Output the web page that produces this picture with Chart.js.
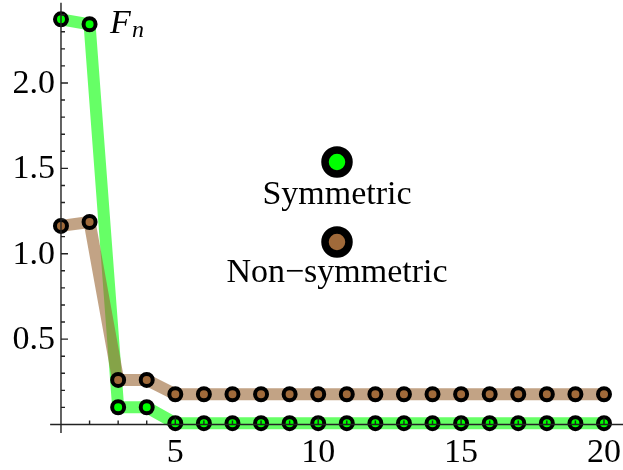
<!DOCTYPE html>
<html>
<head>
<meta charset="utf-8">
<script src="https://cdn.jsdelivr.net/npm/chart.js@4"></script>
<style>
  html, body { margin: 0; padding: 0; background: #fff; }
  canvas { display: block; }
</style>
</head>
<body>
<canvas id="fnChart" width="623" height="470"></canvas>
<script>
// DATA

const nValues = [1,2,3,4,5,6,7,8,9,10,11,12,13,14,15,16,17,18,19,20];
const symmetric = [2.373,2.344,0.101,0.101,0.008,0.008,0.008,0.008,0.008,0.008,
                   0.008,0.008,0.008,0.008,0.008,0.008,0.008,0.008,0.008,0.008];
const nonSymmetric = [1.163,1.186,0.261,0.261,0.177,0.177,0.177,0.177,0.177,0.177,
                      0.177,0.177,0.177,0.177,0.177,0.177,0.177,0.177,0.177,0.177];
const xMajorTicks = [5,10,15,20];
const yMajorTicks = [0.5,1.0,1.5,2.0];
const seriesNames = ['Symmetric','Non\u2212symmetric'];

const GREEN = 'rgb(0,255,0)';
const GREEN_LINE = 'rgba(0,255,0,0.6)';
const BROWN = 'rgb(160,106,58)';
const BROWN_LINE = 'rgba(153,102,51,0.6)';
const FONT = '"Liberation Serif", "DejaVu Serif", serif';

function toPoints(ys) {
    return nValues.map((n, i) => ({ x: n, y: ys[i] }));
}

// AXES, TICKS, LABELS, LEGEND

const axesPlugin = {
    id: 'axesPlugin',
    afterDatasetsDraw(chart) {
        const ctx = chart.ctx;
        const xs = chart.scales.x;
        const ys = chart.scales.y;
        const x0 = xs.getPixelForValue(1);
        const y0 = ys.getPixelForValue(0);

        ctx.save();
        ctx.strokeStyle = '#222';
        ctx.lineWidth = 1.4;

        // axis lines
        ctx.beginPath();
        ctx.moveTo(xs.getPixelForValue(0.62), y0);
        ctx.lineTo(chart.chartArea.right, y0);
        ctx.moveTo(x0, ys.getPixelForValue(-0.05));
        ctx.lineTo(x0, ys.getPixelForValue(2.47));
        ctx.stroke();

        // x ticks (pointing up)
        ctx.beginPath();
        for (let n = 2; n <= 20; n++) {
            const len = xMajorTicks.includes(n) ? 7 : 4;
            const px = xs.getPixelForValue(n);
            ctx.moveTo(px, y0);
            ctx.lineTo(px, y0 - len);
        }
        // y ticks (pointing right)
        for (let k = 1; k <= 24; k++) {
            const v = k / 10;
            const len = (k % 5 === 0) ? 7 : 4;
            const py = ys.getPixelForValue(v);
            ctx.moveTo(x0, py);
            ctx.lineTo(x0 + len, py);
        }
        ctx.stroke();

        ctx.fillStyle = '#000';
        ctx.font = '34px ' + FONT;
        ctx.textAlign = 'center';
        ctx.textBaseline = 'alphabetic';
        xMajorTicks.forEach(n => {
            ctx.fillText(String(n), xs.getPixelForValue(n), y0 + 38);
        });
        ctx.textAlign = 'right';
        ctx.textBaseline = 'middle';
        yMajorTicks.forEach(v => {
            ctx.fillText(v.toFixed(1), x0 - 6, ys.getPixelForValue(v) + 1);
        });

        // axis label F_n
        ctx.textAlign = 'left';
        ctx.textBaseline = 'alphabetic';
        ctx.font = 'italic 34px ' + FONT;
        ctx.fillText('F', 110, 33);
        ctx.font = 'italic 24px ' + FONT;
        ctx.fillText('n', 132, 37);

        // legend
        const lx = 337;
        const items = [
            { name: seriesNames[0], fill: GREEN, cy: 162, ty: 204 },
            { name: seriesNames[1], fill: BROWN, cy: 242, ty: 282 }
        ];
        items.forEach(it => {
            ctx.beginPath();
            ctx.arc(lx, it.cy, 12, 0, Math.PI * 2);
            ctx.fillStyle = it.fill;
            ctx.fill();
            ctx.lineWidth = 7.5;
            ctx.strokeStyle = '#000';
            ctx.stroke();
            ctx.fillStyle = '#000';
            ctx.font = '34px ' + FONT;
            ctx.textAlign = 'center';
            ctx.fillText(it.name, lx, it.ty);
        });
        ctx.restore();
    }
};

const fnCtx = document.getElementById('fnChart');

new Chart(fnCtx, {
    type: 'line',
    data: {
        datasets: [{
            label: seriesNames[0],
            data: toPoints(symmetric),
            borderColor: GREEN_LINE,
            borderWidth: 12,
            pointBackgroundColor: GREEN,
            pointBorderColor: '#000',
            pointBorderWidth: 4,
            pointRadius: 6,
            tension: 0,
            clip: false,
            order: 2
        }, {
            label: seriesNames[1],
            data: toPoints(nonSymmetric),
            borderColor: BROWN_LINE,
            borderWidth: 12,
            pointBackgroundColor: BROWN,
            pointBorderColor: '#000',
            pointBorderWidth: 4,
            pointRadius: 6,
            tension: 0,
            clip: false,
            order: 1
        }]
    },
    options: {
        responsive: false,
        animation: false,
        devicePixelRatio: 1,
        layout: { padding: 0, autoPadding: false },
        scales: {
            x: { type: 'linear', min: -1.134, max: 20.665, display: false },
            y: { type: 'linear', min: -0.2665, max: 2.486, display: false }
        },
        plugins: {
            legend: { display: false },
            tooltip: { enabled: false }
        }
    },
    plugins: [axesPlugin]
});
</script>
</body>
</html>
